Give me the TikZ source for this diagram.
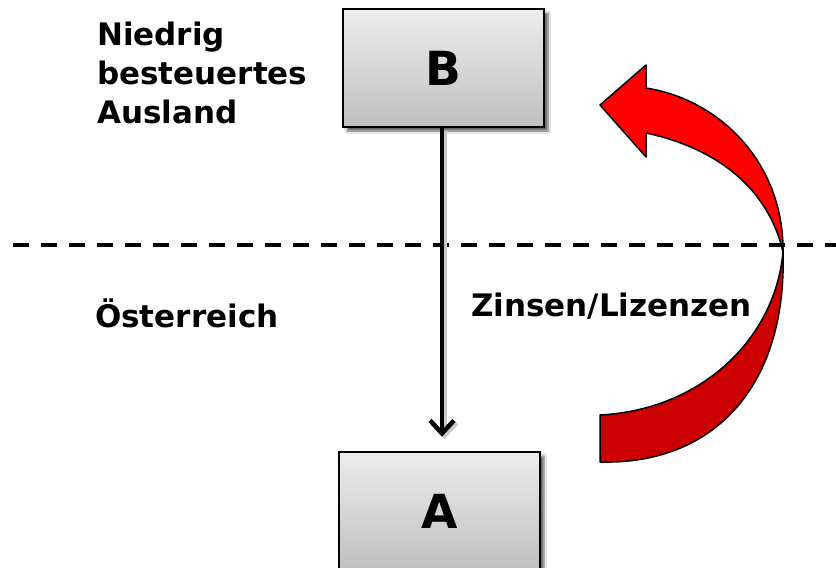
\documentclass[tikz,border=0pt]{standalone}
\usepackage{fontspec}
\setmainfont{DejaVu Sans}
\usetikzlibrary{arrows.meta,shadows.blur}
\definecolor{brightred}{HTML}{FF0000}
\definecolor{darkred}{HTML}{CC0000}
\tikzset{
  box/.style={draw=black, line width=2.6pt, minimum width=201pt, minimum height=118pt,
    top color=gray!14, bottom color=gray!50, inner sep=0pt,
    blur shadow={shadow xshift=4pt, shadow yshift=-4pt, shadow blur steps=6, shadow opacity=60},
    font=\fontsize{47}{50}\selectfont\bfseries},
  lbl/.style={font=\fontsize{31}{39}\selectfont\bfseries, inner sep=0pt, align=left},
  flow/.style={line width=4.5pt, -{Straight Barb[length=13pt,width=24pt,line width=4.5pt]}},
  divider/.style={line width=3.5pt, dash pattern=on 16pt off 12pt},
  bandhi/.style={fill=brightred, draw=black, line width=1.5pt, line join=round},
  bandlo/.style={fill=darkred, draw=black, line width=1.5pt, line join=round}
}
\begin{document}
\begin{tikzpicture}[x=1pt,y=-1pt]
\clip (0,0) rectangle (836,568);
\fill[white] (0,0) rectangle (836,568);
% boxes
\node[box] (B) at (443.5,68) {B};
\node[box] (A) at (439.5,511) {A};
% curved block arrow
\coordinate (cross) at (783,252);
\path[bandlo] (cross) .. controls (775,340) and (700,410) .. (600,415)
   -- (600,462) .. controls (715,465) and (787,385) .. (cross) -- cycle;
\path[bandhi] (600,105) -- (646,65) -- (646,88)
   .. controls (722,100) and (784,165) .. (cross)
   .. controls (770,195) and (725,150) .. (646,133)
   -- (646,157) -- cycle;
% divider
\coordinate (dl) at (13,245);
\coordinate (dr) at (836,245);
\draw[divider] (dl) -- (dr);
% flow arrow
\draw[flow, black!22, shorten >=14pt, transform canvas={xshift=2.5pt,yshift=-2.5pt}] (B.south -| 442,0) -- (A.north -| 442,0);
\draw[flow, shorten >=14pt] (B.south -| 442,0) -- (A.north -| 442,0);
% labels
\node[lbl, anchor=base west] (ausland) at (97,123) {Niedrig\\besteuertes\\Ausland};
\node[lbl, anchor=base west] (at) at (95,327) {Österreich};
\node[lbl, anchor=base west] (zl) at (471,316) {Zinsen/Lizenzen};
\end{tikzpicture}
\end{document}
